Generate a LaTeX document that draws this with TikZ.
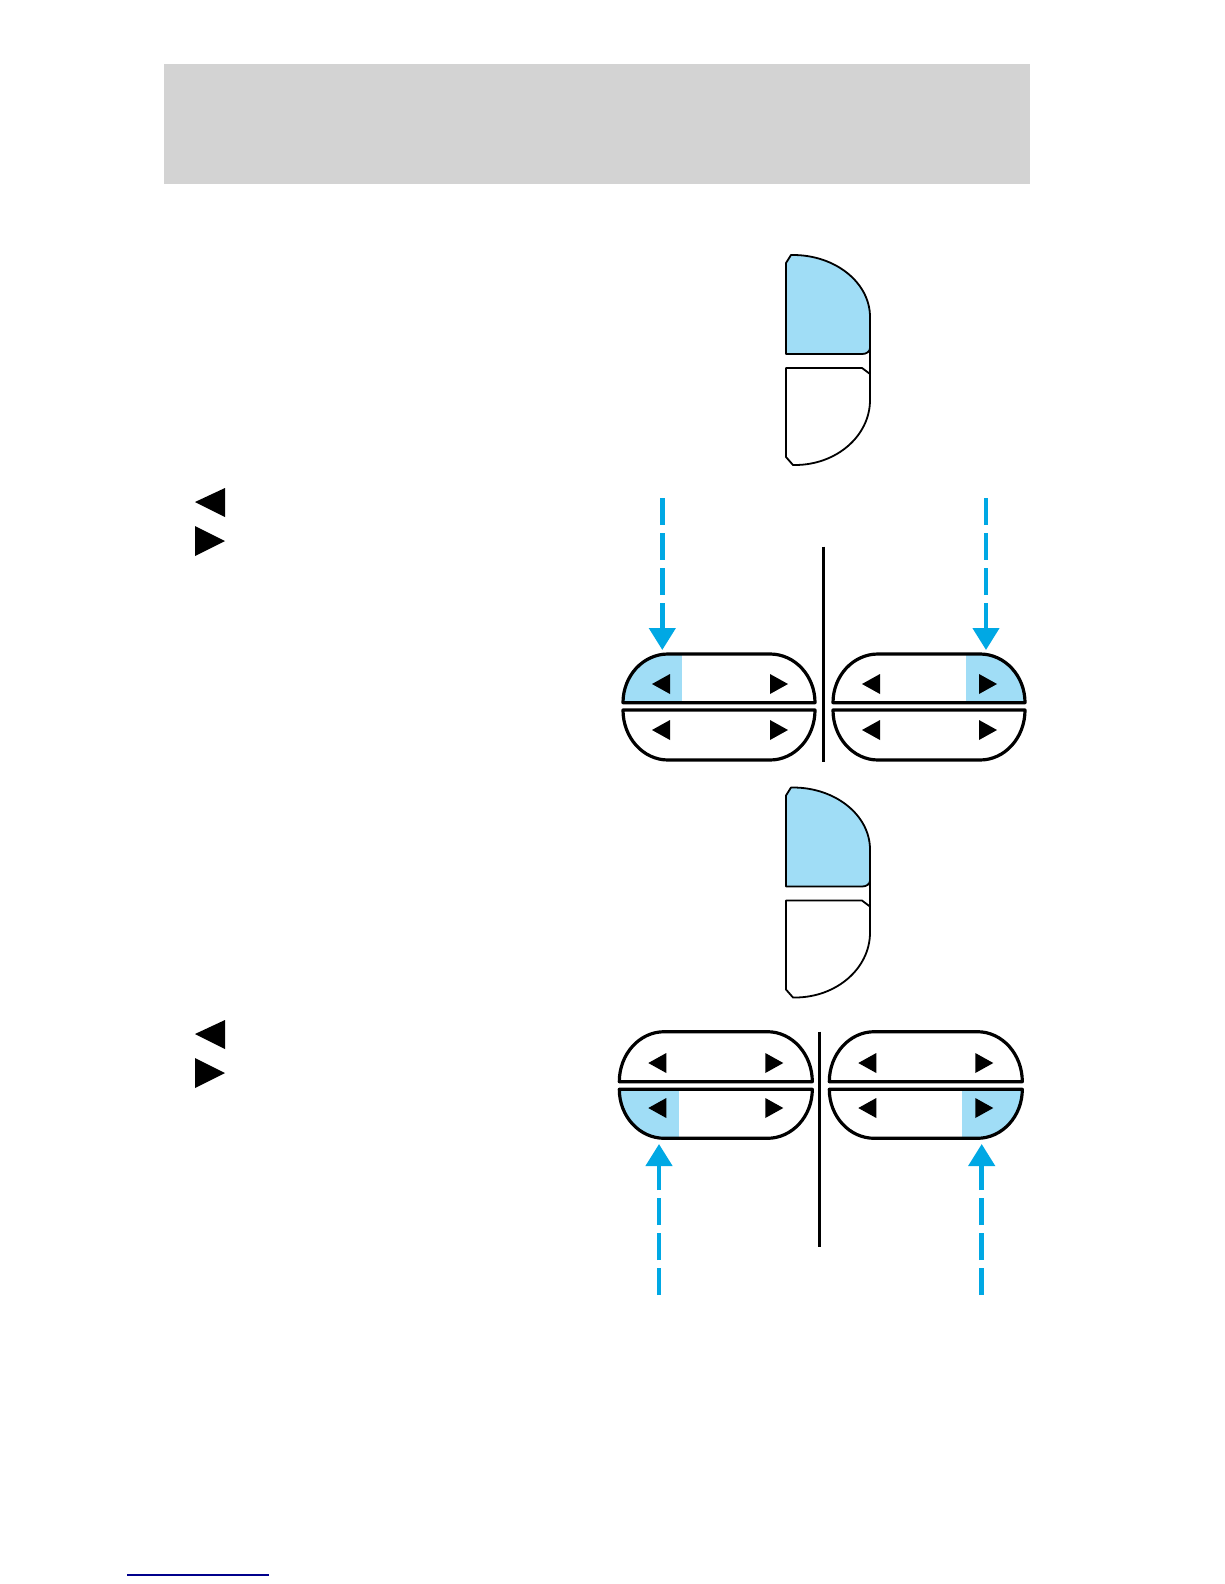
\documentclass[tikz,border=0pt]{standalone}
\usetikzlibrary{arrows.meta}
\definecolor{hdrgrey}{RGB}{211,211,211}
\definecolor{lightblue}{RGB}{160,221,246}
\definecolor{arrowcyan}{RGB}{0,168,228}
\definecolor{linkblue}{RGB}{0,0,140}
\tikzset{
  outline/.style={draw=black,line width=3.2pt,line join=round},
  seatline/.style={draw=black,line width=1.8pt,line join=round},
  divider/.style={draw=black,line width=3pt},
  tri/.style={fill=black,draw=none},
  hl/.style={fill=lightblue,draw=none},
  pressarrow/.style={draw=arrowcyan,line width=4.5pt,dash pattern=on 27pt off 8pt,
    -{Triangle[width=26pt,length=22pt]}}
}
% upper half of a pill: L R T Ub
\newcommand\upperpill[4]{(#1,#4) arc[start angle=180,end angle=270,x radius=45,y radius=#4-#3]
  -- (#2-45,#3) arc[start angle=270,end angle=360,x radius=45,y radius=#4-#3] -- cycle}
% lower half of a pill: L R Lt B
\newcommand\lowerpill[4]{(#1,#3) arc[start angle=180,end angle=90,x radius=45,y radius=#4-#3]
  -- (#2-45,#4) arc[start angle=90,end angle=0,x radius=45,y radius=#4-#3] -- cycle}
% left / right pointing triangle: tip x, centre y
\newcommand\ltri[2]{\fill[tri] (#1,#2) -- (#1+18,#2-10) -- (#1+18,#2+10) -- cycle;}
\newcommand\rtri[2]{\fill[tri] (#1,#2) -- (#1-18,#2-10) -- (#1-18,#2+10) -- cycle;}
% seat shaped switch
\newcommand\seatswitch{%
  \fill[lightblue] (786,354) -- (786,263) -- (791,255) -- (793,255)
    arc[start angle=270,end angle=360,x radius=77,y radius=62] -- (870,348)
    .. controls (870,352) and (866,354) .. (862,354) -- cycle;
  \draw[seatline] (786,354) -- (786,263) -- (791,255) -- (793,255)
    arc[start angle=270,end angle=360,x radius=77,y radius=62] -- (870,348)
    .. controls (870,352) and (866,354) .. (862,354) -- cycle;
  \draw[seatline] (786,368) -- (862,368) -- (870,374) -- (870,400)
    arc[start angle=0,end angle=90,x radius=75,y radius=65] -- (793,465) -- (786,457) -- cycle;
  \draw[seatline] (870,348) -- (870,374);
}
\begin{document}
\begin{tikzpicture}[x=1pt,y=-1pt]
\useasboundingbox (0,0) rectangle (1224,1584);
\fill[white] (0,0) rectangle (1224,1584);
% header bar
\fill[hdrgrey] (164,64) rectangle (1030,184);

% left-hand symbols
\fill[tri] (195,502) -- (225,488) -- (225,517) -- cycle;
\fill[tri] (195,526) -- (225,541) -- (195,556) -- cycle;
\fill[tri] (195,1034) -- (225,1020) -- (225,1049) -- cycle;
\fill[tri] (195,1058) -- (225,1073) -- (195,1088) -- cycle;

% ===== first seat switch =====
\seatswitch
% ===== second seat switch =====
\begin{scope}[shift={(0,532.5)}]
\seatswitch
\end{scope}

% ===== group 1 =====
\begin{scope}
\clip \upperpill{623}{815}{654}{702.7};
\fill[hl] (600,640) rectangle (682,705);
\end{scope}
\begin{scope}
\clip \upperpill{833}{1025}{654}{702.7};
\fill[hl] (966,640) rectangle (1040,705);
\end{scope}
\draw[outline] \upperpill{623}{815}{654}{702.7};
\draw[outline] \lowerpill{623}{815}{710}{760};
\draw[outline] \upperpill{833}{1025}{654}{702.7};
\draw[outline] \lowerpill{833}{1025}{710}{760};
\ltri{652}{684} \rtri{788}{684} \ltri{652}{730} \rtri{788}{730}
\ltri{862}{684} \rtri{997}{684} \ltri{862}{730} \rtri{997}{730}
\coordinate (d1top) at (823.3,546.7);
\coordinate (d1bot) at (823.3,761.7);
\draw[divider] (d1top) -- (d1bot);
\coordinate (a1s) at (662.3,498);
\coordinate (a1e) at (662.3,650);
\coordinate (a2s) at (986,498);
\coordinate (a2e) at (986,650);
\draw[pressarrow] (a1s) -- (a1e);
\draw[pressarrow] (a2s) -- (a2e);

% ===== group 2 =====
\begin{scope}
\clip \lowerpill{619.3}{812.3}{1089.3}{1138.3};
\fill[hl] (600,1085) rectangle (679,1145);
\end{scope}
\begin{scope}
\clip \lowerpill{829.3}{1022.3}{1089.3}{1138.3};
\fill[hl] (962.3,1085) rectangle (1040,1145);
\end{scope}
\draw[outline] \upperpill{619.3}{812.3}{1031.7}{1081.7};
\draw[outline] \lowerpill{619.3}{812.3}{1089.3}{1138.3};
\draw[outline] \upperpill{829.3}{1022.3}{1031.7}{1081.7};
\draw[outline] \lowerpill{829.3}{1022.3}{1089.3}{1138.3};
\ltri{648.3}{1063} \rtri{783.3}{1063} \ltri{648.3}{1108} \rtri{783.3}{1108}
\ltri{858.3}{1063} \rtri{993.3}{1063} \ltri{858.3}{1108} \rtri{993.3}{1108}
\coordinate (d2top) at (819,1031.7);
\coordinate (d2bot) at (819,1246.7);
\draw[divider] (d2top) -- (d2bot);
\coordinate (b1s) at (659,1295);
\coordinate (b1e) at (659,1144);
\coordinate (b2s) at (981.7,1295);
\coordinate (b2e) at (981.7,1144);
\draw[pressarrow] (b1s) -- (b1e);
\draw[pressarrow] (b2s) -- (b2e);

% footer link line
\coordinate (ls) at (127,1575);
\coordinate (le) at (269,1575);
\draw[linkblue,line width=1.2pt] (ls) -- (le);
\end{tikzpicture}
\end{document}
